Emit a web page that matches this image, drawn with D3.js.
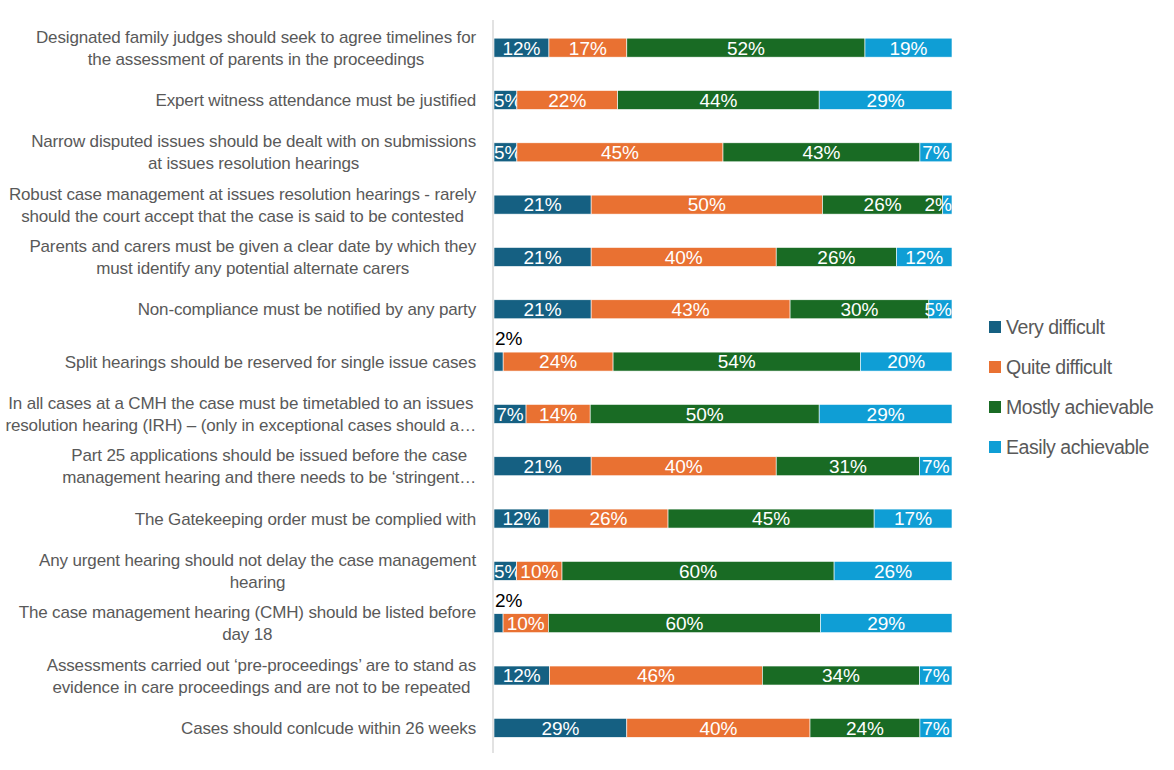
<!DOCTYPE html>
<html>
<head>
<meta charset="utf-8">
<script src="https://cdn.jsdelivr.net/npm/d3@7"></script>
<style>
  body { margin: 0; background: #fff; }
  svg { display: block; font-family: "Liberation Sans", Arial, sans-serif; }
</style>
</head>
<body>
<script>
// categories, top to bottom; "|" marks a line break in the axis label
var categories = [
    "Designated family judges should seek to agree timelines for|the assessment of parents in the proceedings",
    "Expert witness attendance must be justified",
    "Narrow disputed issues should be dealt with on submissions|at issues resolution hearings",
    "Robust case management at issues resolution hearings - rarely|should the court accept that the case is said to be contested",
    "Parents and carers must be given a clear date by which they|must identify any potential alternate carers",
    "Non-compliance must be notified by any party",
    "Split hearings should be reserved for single issue cases",
    "In all cases at a CMH the case must be timetabled to an issues|resolution hearing (IRH) \u2013 (only in exceptional cases should a\u2026",
    "Part 25 applications should be issued before the case|management hearing and there needs to be \u2018stringent\u2026",
    "The Gatekeeping order must be complied with",
    "Any urgent hearing should not delay the case management|hearing",
    "The case management hearing (CMH) should be listed before|day 18",
    "Assessments carried out \u2018pre-proceedings\u2019 are to stand as|evidence in care proceedings and are not to be repeated",
    "Cases should conlcude within 26 weeks"
];

var seriesNames = ["Very difficult", "Quite difficult", "Mostly achievable", "Easily achievable"];
var seriesColors = ["#156082", "#E97132", "#196B24", "#0F9ED5"];

// percentages per series, same order as categories
var veryDifficult    = [12, 5, 5, 21, 21, 21, 2, 7, 21, 12, 5, 2, 12, 29];
var quiteDifficult   = [17, 22, 45, 50, 40, 43, 24, 14, 40, 26, 10, 10, 46, 40];
var mostlyAchievable = [52, 44, 43, 26, 26, 30, 54, 50, 31, 45, 60, 60, 34, 24];
var easilyAchievable = [19, 29, 7, 2, 12, 5, 20, 29, 7, 17, 26, 29, 7, 7];

var seriesValues = [veryDifficult, quiteDifficult, mostlyAchievable, easilyAchievable];

// table for d3.stack
var rows = categories.map(function(c, i) {
    var r = { category: c };
    seriesNames.forEach(function(s, j) { r[s] = seriesValues[j][i]; });
    return r;
});

var width = 1174, height = 770;
var margin = { left: 494, right: 222, top: 21.5, bottom: 16 };

var svg = d3.select("body").append("svg")
    .attr("width", width)
    .attr("height", height);

var x = d3.scaleLinear()
    .domain([0, 1])
    .range([margin.left, width - margin.right]);

var y = d3.scaleBand()
    .domain(categories)
    .range([margin.top, height - margin.bottom])
    .paddingInner(0.637)
    .paddingOuter(0.3185);

// normalise each row to 100% like the original chart
var stacked = d3.stack()
    .keys(seriesNames)
    .offset(d3.stackOffsetExpand)(rows);

// bars
var layers = svg.append("g").selectAll("g.layer")
    .data(stacked)
    .join("g")
    .attr("class", "layer")
    .attr("fill", function(d, i) { return seriesColors[i]; });

layers.selectAll("rect")
    .data(function(d) { return d; })
    .join("rect")
    .attr("x", function(d) { return x(d[0]); })
    .attr("y", function(d) { return y(d.data.category); })
    .attr("width", function(d) { return x(d[1]) - x(d[0]); })
    .attr("height", y.bandwidth())
    .attr("stroke", "#fff")
    .attr("stroke-width", 0.6);

// data labels
layers.each(function(layer, si) {
    d3.select(this).selectAll("text")
        .data(layer)
        .join("text")
        .text(function(d) { return d.data[layer.key] + "%"; })
        .style("font-size", "19px")
        .each(function(d) {
            var t = d3.select(this);
            var w = this.getComputedTextLength();
            var v = d.data[layer.key];
            var yTop = y(d.data.category);
            if (si === 0 && v < 3) {
                // tiny first segment: label sits above the bar, in black
                t.attr("x", x(d[0]) + 1)
                 .attr("y", yTop - 7)
                 .attr("fill", "#000");
            } else {
                var cx = (x(d[0]) + x(d[1])) / 2;
                cx = Math.min(cx, x.range()[1] - w / 2);
                cx = Math.max(cx, x.range()[0] + w / 2);
                t.attr("x", cx)
                 .attr("y", yTop + y.bandwidth() / 2)
                 .attr("dy", "0.36em")
                 .attr("text-anchor", "middle")
                 .attr("fill", "#fff");
            }
        });
});

// vertical category axis
var axis = svg.append("g")
    .attr("transform", "translate(" + (margin.left - 1) + ",0)")
    .call(d3.axisLeft(y).tickSize(0).tickSizeOuter(0).tickPadding(17));

axis.select(".domain")
    .attr("stroke", "#D9D9D9")
    .attr("stroke-width", 1.5)
    .attr("d", "M0," + (margin.top - 1.5) + "V" + (height - margin.bottom - 1));

var lineHeight = 22;
axis.selectAll(".tick text")
    .attr("fill", "#595959")
    .style("font-size", "17px")
    .style("letter-spacing", "-0.15px")
    .style("font-family", "\"Liberation Sans\", Arial, sans-serif")
    .each(function(d) {
        var t = d3.select(this);
        var lines = d.split("|");
        t.text(null).attr("text-anchor", "middle").attr("dy", null);
        var spans = lines.map(function(l, i) {
            return t.append("tspan")
                .attr("y", (i - (lines.length - 1) / 2) * lineHeight)
                .attr("dy", "0.36em")
                .text(l);
        });
        var maxW = d3.max(spans, function(s) { return s.node().getComputedTextLength(); });
        spans.forEach(function(s) { s.attr("x", -17 - maxW / 2); });
    });

// legend
var legend = svg.append("g")
    .attr("transform", "translate(989,327)");

var item = legend.selectAll("g")
    .data(seriesNames)
    .join("g")
    .attr("transform", function(d, i) { return "translate(0," + i * 40 + ")"; });

item.append("rect")
    .attr("x", 0)
    .attr("y", -6)
    .attr("width", 12)
    .attr("height", 12)
    .attr("fill", function(d, i) { return seriesColors[i]; });

item.append("text")
    .attr("x", 17)
    .attr("dy", "0.36em")
    .attr("fill", "#595959")
    .style("font-size", "19.5px")
    .style("letter-spacing", "-0.45px")
    .text(function(d) { return d; });
</script>
</body>
</html>
